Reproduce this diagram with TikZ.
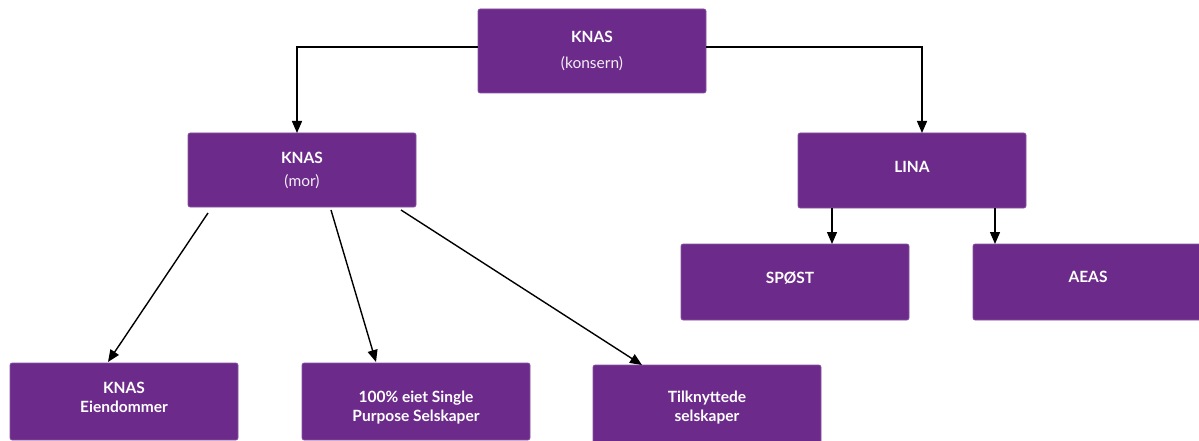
\documentclass[tikz,border=0pt]{standalone}
\usepackage{fontspec}
\setmainfont{Lato}
\usetikzlibrary{arrows.meta}
\definecolor{boxpurple}{HTML}{6C2A8A}
\begin{document}
\begin{tikzpicture}[x=1pt,y=-1pt,
  orgbox/.style={fill=boxpurple,draw=boxpurple!80!white,line width=0.6pt,rounded corners=2pt},
  lbl/.style={text=white,font=\fontsize{15.5}{18}\selectfont\bfseries,align=center,inner sep=0pt},
  sub/.style={text=white!92!boxpurple,font=\fontsize{15.5}{18}\selectfont,inner sep=0pt},
  conn/.style={line width=1.4pt,-{Triangle[length=12pt,width=10pt]}}]
\useasboundingbox (0,0) rectangle (1199,441);
% boxes
\path[orgbox] (478,9) rectangle (706,93);
\path[orgbox] (188,133) rectangle (416,207);
\path[orgbox] (798,133) rectangle (1026,208);
\path[orgbox] (681,244) rectangle (909,320);
\path[orgbox] (973,244) rectangle (1201,320);
\path[orgbox] (10,363) rectangle (238,440);
\path[orgbox] (302,363) rectangle (530,440);
\path[orgbox] (593,365) rectangle (821,443);
% texts
\node[lbl] (t1) at (592,37) {KNAS};
\node[sub] (t1s) at (592,64) {(konsern)};
\node[lbl] (t2) at (302,158) {KNAS};
\node[sub] (t2s) at (302,182) {(mor)};
\node[lbl] (t3) at (912,167) {LINA};
\node[lbl] (t4) at (790,278) {SPØST};
\node[lbl] (t5) at (1088,277) {AEAS};
\node[lbl] (t6) at (124,397) {KNAS\\[1pt]Eiendommer};
\node[lbl] (t7) at (416,408) {100\% eiet Single\\[1pt]Purpose Selskaper};
\node[lbl] (t8) at (707,408) {Tilknyttede\\[1pt]selskaper};
% connector anchor coordinates
\coordinate (topL) at (478,47);
\coordinate (topR) at (706,47);
\coordinate (morT) at (297,133);
\coordinate (linaT) at (922,133);
\coordinate (linaB1) at (832,208);
\coordinate (linaB2) at (995,208);
\coordinate (spostT) at (832,244);
\coordinate (aeasT) at (995,244);
\coordinate (morB1) at (208,213);
\coordinate (morB2) at (331,210);
\coordinate (morB3) at (401,210);
\coordinate (eiT) at (108,362);
\coordinate (spT) at (376,362);
\coordinate (tiT) at (642,365);
% connectors
\draw[conn] (topL) -| (morT);
\draw[conn] (topR) -| (linaT);
\draw[conn] (linaB1) -- (spostT);
\draw[conn] (linaB2) -- (aeasT);
\draw[conn] (morB1) -- (eiT);
\draw[conn] (morB2) -- (spT);
\draw[conn] (morB3) -- (tiT);
\end{tikzpicture}
\end{document}
